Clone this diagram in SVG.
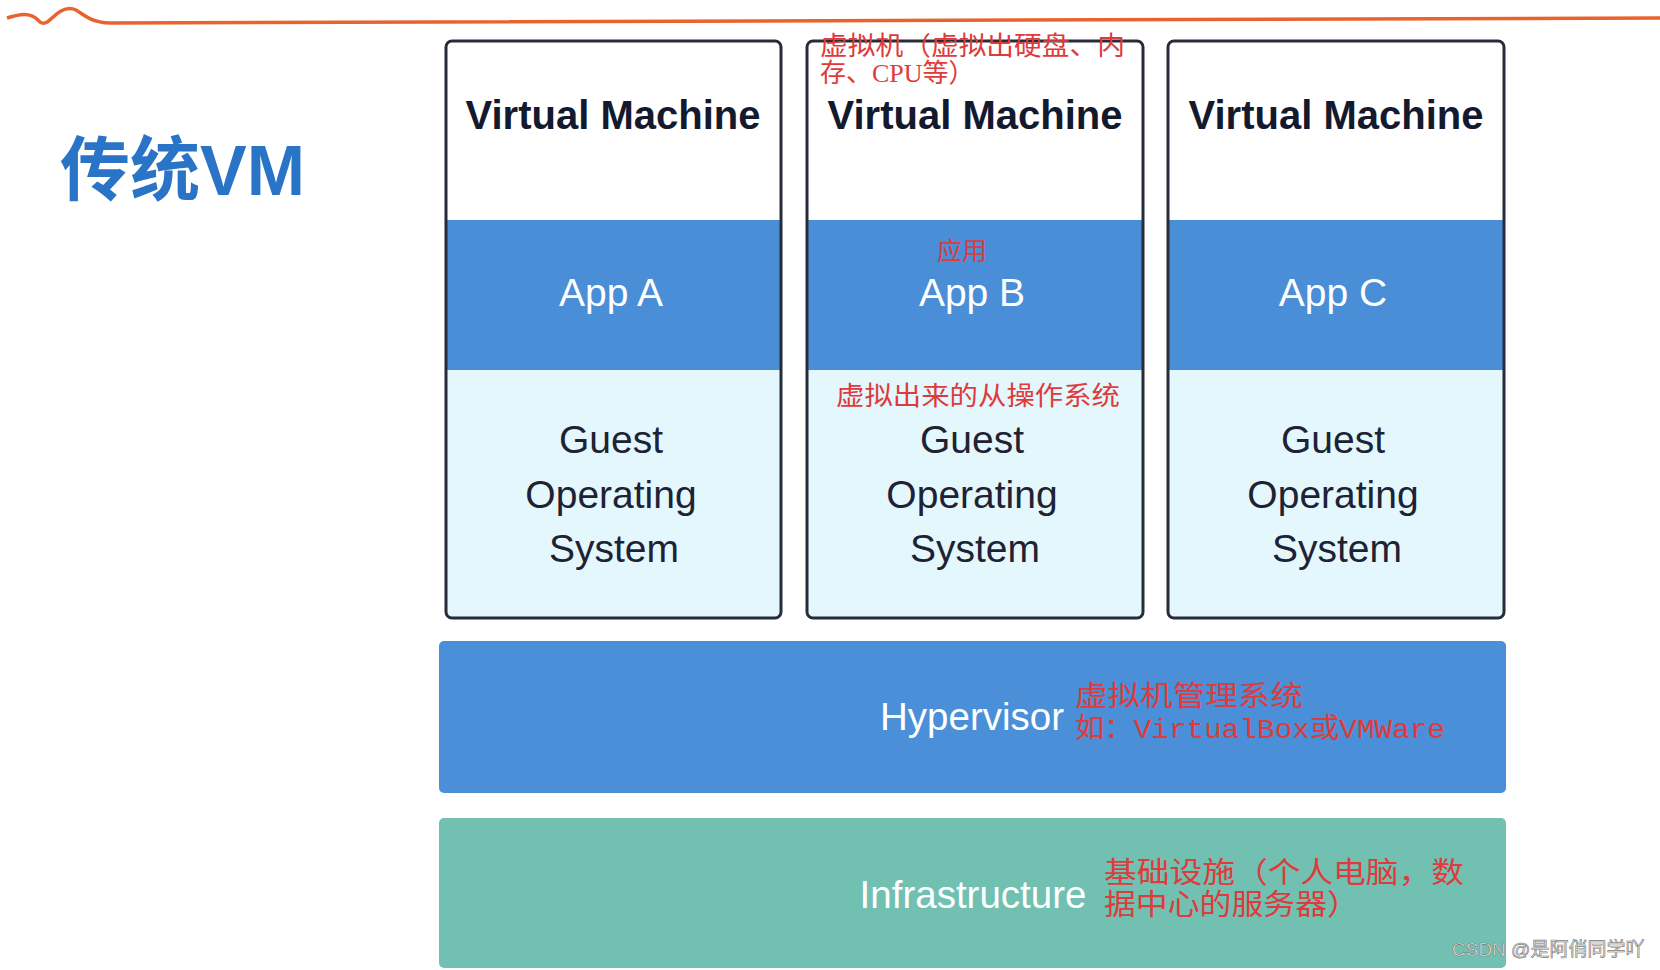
<svg xmlns="http://www.w3.org/2000/svg" width="1660" height="970" viewBox="0 0 1660 970">
<defs>
<style>
.vmtitle{font-family:"Liberation Sans",Arial,sans-serif;font-weight:bold;font-size:40px;fill:#141a2e;text-anchor:middle}
.app{font-family:"Liberation Sans",Arial,sans-serif;font-size:39px;fill:#ffffff;text-anchor:middle}
.os{font-family:"Liberation Sans",Arial,sans-serif;font-size:39px;fill:#1e2233;text-anchor:middle}
.layer{font-family:"Liberation Sans",Arial,sans-serif;font-size:38.5px;fill:#ffffff;text-anchor:middle}
.note{font-family:"Liberation Serif","Noto Sans CJK SC",serif;fill:#de3b3b}
.box{fill:none;stroke:#272c38;stroke-width:3}
</style>
</defs>
<rect width="1660" height="970" fill="#ffffff"/>
<path d="M7,18 C20,14 30,12 38,20 C42,25 46,24 52,18 C60,10 68,6 76,10 C84,15 90,22 110,23 L435,22 L1660,18" fill="none" stroke="#e8632e" stroke-width="3.5"/>
<text x="60" y="195" font-family="'Liberation Sans','Noto Sans CJK SC',sans-serif" font-weight="bold" font-size="70" fill="#2a74c8">传统VM</text>

<g id="vm1">
<rect x="446" y="41" width="335" height="577" rx="6" fill="#ffffff"/>
<rect x="446" y="220" width="335" height="150" fill="#4a8ed8"/>
<rect x="446" y="370" width="335" height="247" fill="#e3f7fd"/>
<rect x="446" y="41" width="335" height="577" rx="6" class="box"/>
<text class="vmtitle" x="613" y="129">Virtual Machine</text>
<text class="app" x="611" y="306">App A</text>
<text class="os" x="611" y="453">Guest</text>
<text class="os" x="611" y="508">Operating</text>
<text class="os" x="614" y="562">System</text>
</g>

<g id="vm2">
<rect x="807" y="41" width="336" height="577" rx="6" fill="#ffffff"/>
<rect x="807" y="220" width="336" height="150" fill="#4a8ed8"/>
<rect x="807" y="370" width="336" height="247" fill="#e3f7fd"/>
<rect x="807" y="41" width="336" height="577" rx="6" class="box"/>
<text class="vmtitle" x="975" y="129">Virtual Machine</text>
<text class="app" x="972" y="306">App B</text>
<text class="os" x="972" y="453">Guest</text>
<text class="os" x="972" y="508">Operating</text>
<text class="os" x="975" y="562">System</text>
<text class="note" x="820" y="55" font-size="26" textLength="305" lengthAdjust="spacingAndGlyphs">虚拟机（虚拟出硬盘、内</text>
<text class="note" x="820" y="82" font-size="26">存、CPU等）</text>
<text class="note" x="937" y="260" font-size="25">应用</text>
<text class="note" x="836" y="405" font-size="26" textLength="284" lengthAdjust="spacingAndGlyphs">虚拟出来的从操作系统</text>
</g>

<g id="vm3">
<rect x="1168" y="41" width="336" height="577" rx="6" fill="#ffffff"/>
<rect x="1168" y="220" width="336" height="150" fill="#4a8ed8"/>
<rect x="1168" y="370" width="336" height="247" fill="#e3f7fd"/>
<rect x="1168" y="41" width="336" height="577" rx="6" class="box"/>
<text class="vmtitle" x="1336" y="129">Virtual Machine</text>
<text class="app" x="1333" y="306">App C</text>
<text class="os" x="1333" y="453">Guest</text>
<text class="os" x="1333" y="508">Operating</text>
<text class="os" x="1337" y="562">System</text>
</g>

<g id="hypervisor">
<rect x="439" y="641" width="1067" height="152" rx="5" fill="#4b8fd8"/>
<text class="layer" x="972" y="730">Hypervisor</text>
<text class="note" x="1075" y="706" font-size="28" textLength="228" lengthAdjust="spacingAndGlyphs">虚拟机管理系统</text>
<text x="1075" y="738" font-size="28" textLength="370" lengthAdjust="spacingAndGlyphs" font-family="'Liberation Mono','Noto Sans CJK SC',monospace" fill="#de3b3b">如：VirtualBox或VMWare</text>
</g>

<g id="infrastructure">
<rect x="439" y="818" width="1067" height="150" rx="5" fill="#72c0b2"/>
<text class="layer" x="973" y="908">Infrastructure</text>
<text class="note" x="1104" y="883" font-size="29" textLength="360" lengthAdjust="spacingAndGlyphs">基础设施（个人电脑，数</text>
<text class="note" x="1104" y="915" font-size="29" textLength="255" lengthAdjust="spacingAndGlyphs">据中心的服务器）</text>
</g>

<g id="connectors"></g>

<text x="1452" y="956" font-family="'Liberation Sans','Noto Sans CJK SC',sans-serif" font-size="19" fill="#ececec" stroke="#777777" stroke-width="0.6">CSDN @是阿俏同学吖</text>
</svg>
